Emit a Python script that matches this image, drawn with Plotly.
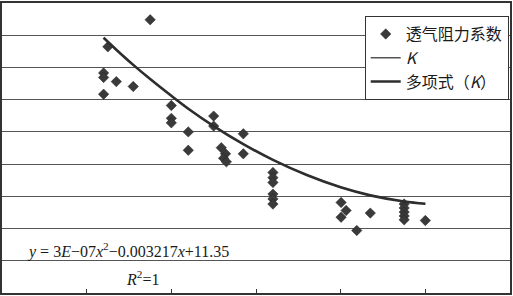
import plotly.graph_objects as go

# Scatter data: 透气阻力系数
pts_x = [1200, 1200, 1200, 1250, 1350, 1550, 1750,
         2000, 2000, 2000, 2200, 2200, 2500, 2500,
         2590, 2640, 2617, 2650, 2850, 2850,
         3200, 3200, 3200, 3200, 3200, 3200,
         4005, 4064, 4005, 4190, 4350,
         4750, 4750, 4750, 4750, 4750, 5000]
pts_y = [6.83, 6.69, 6.17, 7.64, 6.56, 6.41, 8.48,
         5.82, 5.42, 5.28, 5.00, 4.43, 5.49, 5.18,
         4.51, 4.32, 4.18, 4.07, 4.94, 4.32,
         3.74, 3.58, 3.43, 3.07, 2.92, 2.76,
         2.81, 2.56, 2.35, 1.94, 2.48,
         2.76, 2.64, 2.51, 2.39, 2.27, 2.25]

# K series
k_x = [1200, 1350, 1550, 1750, 2000, 2200, 2500, 2850, 3200, 3600, 4000, 4350, 4750, 5000]
k_y = [7.92, 7.55, 7.08, 6.64, 6.12, 5.72, 5.18, 4.62, 4.13, 3.66, 3.28, 3.03, 2.84, 2.77]

names = ["透气阻力系数", "<i>K</i>", "多项式（<i>K</i>）"]
eq_text = "<i>y</i> = 3<i>E</i>−07<i>x</i><sup>2</sup>−0.003217<i>x</i>+11.35"
r2_text = "<i>R</i><sup>2</sup>=1"

cjk = "Noto Sans CJK SC, Liberation Serif, serif"
serif = "Liberation Serif, DejaVu Serif, serif"

fig = go.Figure()
fig.add_trace(go.Scatter(
    x=pts_x, y=pts_y, mode="markers", name=names[0],
    marker=dict(symbol="diamond", size=8, color="#3a3a3a",
                line=dict(width=0.5, color="#222222"))))
fig.add_trace(go.Scatter(
    x=k_x, y=k_y, mode="lines", name=names[1],
    line=dict(color="#555555", width=1.5, shape="spline")))
fig.add_trace(go.Scatter(
    x=k_x, y=k_y, mode="lines", name=names[2],
    line=dict(color="#2e2e2e", width=2.6, shape="spline")))

fig.add_annotation(text=eq_text, x=0.2475, y=0.147, xref="paper", yref="paper",
                   xanchor="center", yanchor="middle",
                   showarrow=False, font=dict(family=serif, size=16, color="#1a1a1a"))
fig.add_annotation(text=r2_text, x=0.277, y=0.051, xref="paper", yref="paper",
                   xanchor="center", yanchor="middle",
                   showarrow=False, font=dict(family=serif, size=16, color="#1a1a1a"))

fig.update_layout(
    width=513, height=296,
    margin=dict(l=2, r=2, t=1, b=3),
    paper_bgcolor="white", plot_bgcolor="white",
    showlegend=True,
    legend=dict(x=0.714, y=0.955, xanchor="left", yanchor="top",
                bgcolor="white", bordercolor="#333333", borderwidth=1,
                font=dict(family=cjk, size=16, color="#1a1a1a"),
                tracegroupgap=0),
    xaxis=dict(range=[0, 6000], dtick=1000, showticklabels=False,
               ticks="inside", ticklen=4, tickcolor="#333333",
               showgrid=False, zeroline=False,
               showline=True, linecolor="#333333", linewidth=1.5, mirror=True),
    yaxis=dict(range=[0, 9], dtick=1, showticklabels=False, ticks="",
               showgrid=True, gridcolor="#555555", gridwidth=1.2,
               zeroline=False,
               showline=True, linecolor="#333333", linewidth=1.5, mirror=True),
)

fig.write_html("out.html")
